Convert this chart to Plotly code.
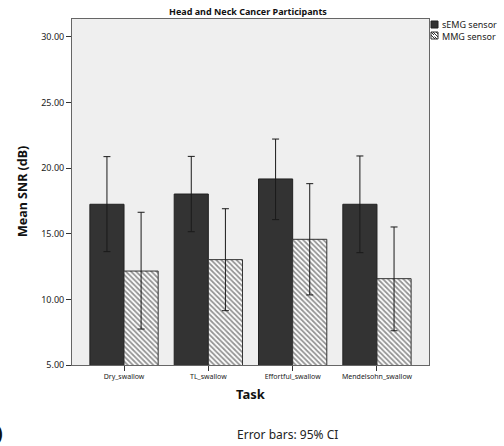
import plotly.graph_objects as go

tasks = ["Dry_swallow", "TL_swallow", "Effortful_swallow", "Mendelsohn_swallow"]
series_names = ["sEMG sensor", "MMG sensor"]
semg_mean = [17.25, 18.03, 19.18, 17.25]
semg_hi = [20.88, 20.90, 22.22, 20.93]
semg_lo = [13.64, 15.16, 16.08, 13.56]
mmg_mean = [12.16, 13.03, 14.58, 11.58]
mmg_hi = [16.64, 16.91, 18.82, 15.52]
mmg_lo = [7.74, 9.14, 10.34, 7.61]

W, H = 504, 446
L, R, T, B = 72, 75, 19, 81
pw, ph = W - L - R, H - T - B


def px(x):
    return (x - L) / pw


def py(y):
    return (H - B - y) / ph


FONT = "Noto Sans"
fig = go.Figure()
fig.add_trace(go.Bar(
    name=series_names[0], x=tasks, y=semg_mean,
    marker=dict(color="#333333", line=dict(color="#222222", width=1)),
    error_y=dict(type="data", symmetric=False,
                 array=[h - m for h, m in zip(semg_hi, semg_mean)],
                 arrayminus=[m - l for m, l in zip(semg_mean, semg_lo)],
                 color="#1a1a1a", thickness=1, width=3.5),
))
fig.add_trace(go.Bar(
    name=series_names[1], x=tasks, y=mmg_mean,
    marker=dict(color="#ffffff", line=dict(color="#333333", width=1),
                pattern=dict(shape="\\", fgcolor="#2a2a2a", bgcolor="#ffffff",
                             size=3.6, solidity=0.5)),
    error_y=dict(type="data", symmetric=False,
                 array=[h - m for h, m in zip(mmg_hi, mmg_mean)],
                 arrayminus=[m - l for m, l in zip(mmg_mean, mmg_lo)],
                 color="#1a1a1a", thickness=1, width=3.5),
))

# manual legend (small SPSS-style swatches)
shapes = [
    dict(type="rect", xref="paper", yref="paper",
         x0=px(431), x1=px(438), y0=py(28), y1=py(21),
         fillcolor="#333333", line=dict(color="#222222", width=1)),
    dict(type="rect", xref="paper", yref="paper",
         x0=px(431), x1=px(438), y0=py(39), y1=py(32),
         fillcolor="#ffffff", line=dict(color="#333333", width=1)),
]
for (x0, y0, x1, y1) in [(431, 32, 434, 35), (431, 35, 435, 39), (433, 32, 438, 37),
                         (436, 32, 438, 34), (434.5, 36.5, 437, 39)]:
    shapes.append(dict(type="line", xref="paper", yref="paper",
                       x0=px(x0), y0=py(y0), x1=px(x1), y1=py(y1),
                       line=dict(color="#333333", width=1)))

fig.update_layout(
    width=W, height=H,
    margin=dict(l=L, r=R, t=T, b=B, autoexpand=False),
    paper_bgcolor="white", plot_bgcolor="#efefef",
    barmode="group", bargap=0.19, bargroupgap=0,
    font=dict(family=FONT, color="#222222"),
    showlegend=False,
    xaxis=dict(range=[-0.617, 3.617], showline=True, linecolor="#666666",
               mirror=True, linewidth=1, ticks="outside", ticklen=5,
               tickcolor="#333333", tickfont=dict(size=7, family=FONT),
               showgrid=False, zeroline=False),
    yaxis=dict(range=[5, 31.37], tickvals=[5, 10, 15, 20, 25, 30],
               tickformat=".2f", showline=True, linecolor="#666666",
               mirror=True, linewidth=1, ticks="outside", ticklen=5,
               tickcolor="#333333", tickfont=dict(size=9, family=FONT),
               showgrid=False, zeroline=False),
    shapes=shapes,
    annotations=[
        dict(text="<b>Head and Neck Cancer Participants</b>", x=px(248), y=py(11),
             xref="paper", yref="paper", showarrow=False,
             xanchor="center", yanchor="middle",
             font=dict(size=9, family=FONT, color="#111111")),
        dict(text="<b>Mean SNR (dB)</b>", x=px(22), y=py(192), textangle=-90,
             xref="paper", yref="paper", showarrow=False,
             xanchor="center", yanchor="middle",
             font=dict(size=12.5, family=FONT, color="#111111")),
        dict(text="<b>Task</b>", x=px(251), y=py(394),
             xref="paper", yref="paper", showarrow=False,
             xanchor="center", yanchor="middle",
             font=dict(size=13, family=FONT, color="#111111")),
        dict(text="Error bars: 95% CI", x=px(287), y=py(434),
             xref="paper", yref="paper", showarrow=False,
             xanchor="center", yanchor="middle",
             font=dict(size=12, family=FONT, color="#222222")),
        dict(text="<b>)</b>", x=px(5), y=py(432),
             xref="paper", yref="paper", showarrow=False,
             xanchor="right", yanchor="middle",
             font=dict(size=20, family=FONT, color="#111111")),
        dict(text=series_names[0], x=px(441), y=py(24.5),
             xref="paper", yref="paper", showarrow=False,
             xanchor="left", yanchor="middle", borderpad=0,
             font=dict(size=9, family=FONT, color="#222222")),
        dict(text=series_names[1], x=px(441), y=py(36),
             xref="paper", yref="paper", showarrow=False,
             xanchor="left", yanchor="middle", borderpad=0,
             font=dict(size=9, family=FONT, color="#222222")),
    ],
)

fig.write_html("out.html")
